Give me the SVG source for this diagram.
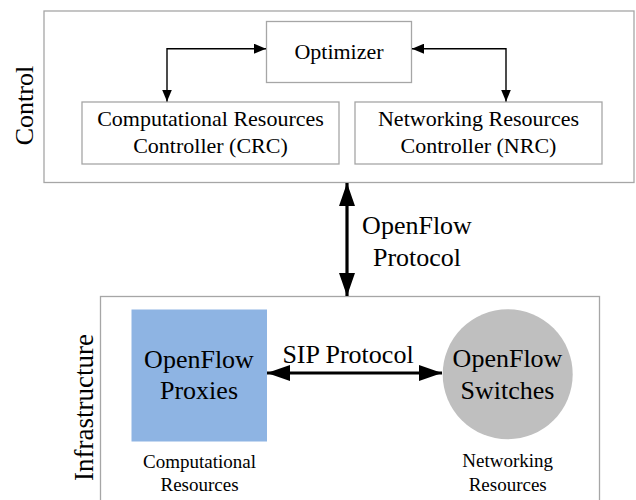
<svg xmlns="http://www.w3.org/2000/svg" width="636" height="500" viewBox="0 0 636 500">
  <defs>
    <marker id="ah" viewBox="0 0 12 10" refX="12" refY="5" markerWidth="12" markerHeight="10" markerUnits="userSpaceOnUse" orient="auto-start-reverse">
      <path d="M0,0 L12,5 L0,10 z" fill="#000"/>
    </marker>
    <marker id="ahb" viewBox="0 0 23 16" refX="23" refY="8" markerWidth="23" markerHeight="16" markerUnits="userSpaceOnUse" orient="auto-start-reverse">
      <path d="M0,0 L23,8 L0,16 z" fill="#000"/>
    </marker>
  </defs>
  <style>
    text { font-family: "Liberation Serif", "Times New Roman", serif; fill: #000; }
    .box { fill: #fff; stroke: #a6a6a6; stroke-width: 1.3; }
    .lbl { font-size: 22px; text-anchor: middle; }
    .big { font-size: 26px; text-anchor: middle; }
    .sm { font-size: 19px; text-anchor: middle; }
    .thin { fill: none; stroke: #000; stroke-width: 1.4; marker-start: url(#ah); marker-end: url(#ah); }
    .thick { fill: none; stroke: #000; stroke-width: 3.2; marker-start: url(#ahb); marker-end: url(#ahb); }
  </style>
  <rect width="636" height="500" fill="#fff"/>

  <g id="control">
    <rect class="box" x="44" y="11" width="590" height="171.5"/>
    <text class="big" transform="translate(33,105.5) rotate(-90)">Control</text>
  </g>
  <g id="infrastructure">
    <rect class="box" x="100.5" y="296.5" width="499" height="210"/>
    <text class="big" style="font-size:27px" transform="translate(93,407.5) rotate(-90)">Infrastructure</text>
  </g>

  <g id="optimizer">
    <rect class="box" x="266.5" y="21.5" width="145" height="61"/>
    <text class="lbl" x="339" y="59">Optimizer</text>
  </g>
  <g id="crc">
    <rect class="box" x="82" y="102" width="257" height="62"/>
    <text class="lbl" x="210.5" y="125.5">Computational Resources</text>
    <text class="lbl" x="210.5" y="153">Controller (CRC)</text>
  </g>
  <g id="nrc">
    <rect class="box" x="355" y="102" width="247" height="62"/>
    <text class="lbl" x="478.5" y="125.5">Networking Resources</text>
    <text class="lbl" x="478.5" y="153">Controller (NRC)</text>
  </g>

  <g id="proxies">
    <rect x="131.5" y="309.5" width="135.5" height="132" fill="#8eb4e3"/>
    <text class="big" x="199" y="367.5">OpenFlow</text>
    <text class="big" x="199" y="399">Proxies</text>
    <text class="sm" x="199.5" y="468">Computational</text>
    <text class="sm" x="199.5" y="490.5">Resources</text>
  </g>
  <g id="switches">
    <circle cx="507.7" cy="374.3" r="65" fill="#bfbfbf"/>
    <text class="big" x="507.5" y="367">OpenFlow</text>
    <text class="big" x="507.5" y="399">Switches</text>
    <text class="sm" x="507.7" y="466.7">Networking</text>
    <text class="sm" x="507.7" y="490.5">Resources</text>
  </g>

  <g id="connectors">
    <path class="thin" d="M167,101.5 V48.7 H266"/>
    <path class="thin" d="M412,48.7 H506 V101.5"/>
    <path class="thick" d="M347,183 V296"/>
    <text class="big" x="417" y="234">OpenFlow</text>
    <text class="big" x="417" y="266">Protocol</text>
    <path class="thick" d="M267,373 H442"/>
    <text class="big" x="348" y="362.5">SIP Protocol</text>
  </g>
</svg>
